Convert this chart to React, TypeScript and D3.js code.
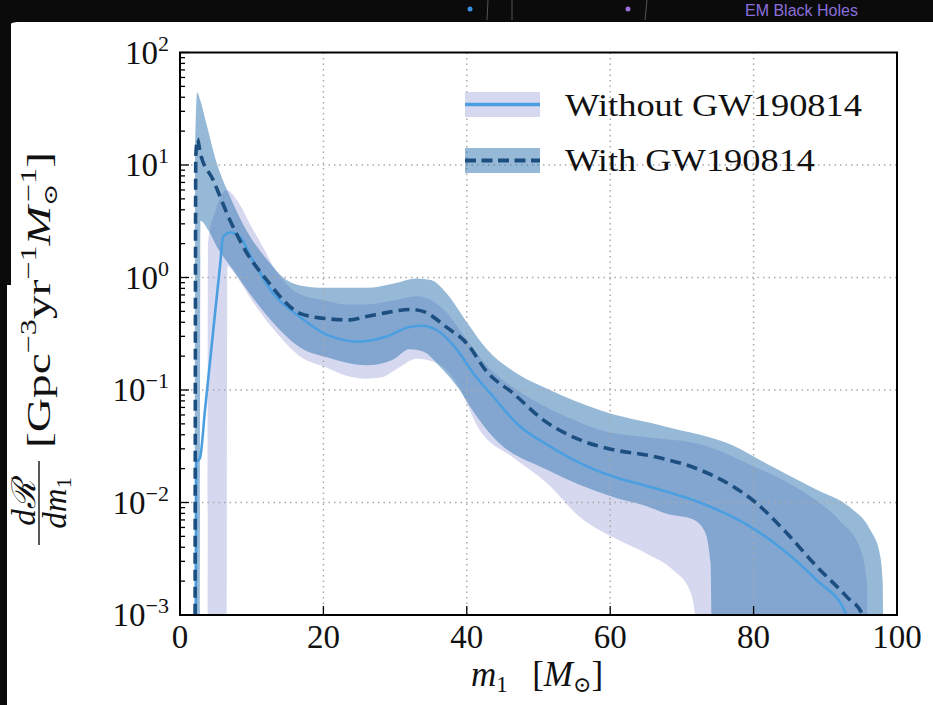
import React from 'react';
import * as d3 from 'd3';

type P = [number, number];

// m1 [Msun], dR/dm1 values
const withoutMedian: P[] = [
  [2.2, 0.0005], [2.25, 0.0224], [2.8, 0.0251], [3.5, 0.068], [4.2, 0.182], [4.9, 0.49], [5.6, 1.3],
  [6.0, 2.29], [7.0, 2.51], [8.4, 2.29],
  [10, 1.48], [13, 0.72], [16.7, 0.447], [20.5, 0.309], [25, 0.269], [29, 0.302], [32, 0.363],
  [33.9, 0.372], [36.3, 0.324], [38.6, 0.229], [40.9, 0.141], [43.7, 0.0871], [47, 0.0501],
  [51.6, 0.0316], [55.8, 0.0224], [60.4, 0.017], [66, 0.0135], [72.5, 0.01], [80.2, 0.00575],
  [84.1, 0.0038], [88.8, 0.00204], [92.8, 0.00105], [93.2, 0.0006],
];

const withMedian: P[] = [
  [2.1, 0.0005], [2.2, 12], [2.45, 17], [2.8, 13], [4.6, 7.4], [7, 3.2], [9.3, 1.66], [12.1, 0.95],
  [14.4, 0.63], [16.7, 0.48], [20.5, 0.43], [23.5, 0.42], [26, 0.45], [29, 0.49], [32, 0.52],
  [33.9, 0.5], [37.2, 0.36], [40, 0.26], [42.8, 0.145], [46.5, 0.093], [50.7, 0.054], [55.8, 0.036],
  [60.4, 0.0295], [65.6, 0.026], [72.5, 0.0195], [77.2, 0.0138], [80.2, 0.0101], [84.1, 0.0058],
  [88.8, 0.0027], [93, 0.00145], [95.2, 0.001], [95.6, 0.0006],
];

const withUpper: P[] = [
  [2.05, 0.0005], [2.1, 12.6], [2.4, 44], [2.8, 38], [3.7, 23], [5.1, 10.5], [7, 5.2], [9.3, 2.6],
  [12.1, 1.45], [14.4, 1.0], [16.7, 0.85], [20, 0.81], [26, 0.81], [30, 0.89], [33, 0.98], [35, 0.95],
  [37.2, 0.72], [40, 0.4], [42.8, 0.23], [47, 0.14], [51.6, 0.1], [58.6, 0.066], [67.9, 0.047],
  [77.2, 0.032], [81.9, 0.022], [88.8, 0.013], [93.4, 0.0091], [96.2, 0.0058], [97.6, 0.0035],
  [98, 0.002], [98.1, 0.0005],
];

const withLower: P[] = [
  [2.05, 0.0005], [2.75, 0.0005], [2.85, 3.2], [4, 2.6], [5.1, 1.9], [7.4, 1.17], [9.8, 0.71],
  [12, 0.47], [14.4, 0.32], [16.7, 0.24], [20.5, 0.195], [26, 0.166], [29.7, 0.186], [32, 0.23],
  [33.9, 0.22], [36.3, 0.16], [39, 0.1], [41, 0.063], [43.7, 0.038], [51.2, 0.0195], [60.4, 0.0112],
  [65, 0.0093], [68, 0.0079], [71.5, 0.0071], [73.2, 0.0055], [74, 0.0029], [74.2, 0.0005],
  [98.1, 0.0005],
];

const withoutUpper: P[] = [
  [3.85, 0.0005], [3.9, 2.0], [5, 4.0], [6.5, 6.0], [8, 4.8], [10, 2.8], [11.5, 1.9], [13, 1.26],
  [16.7, 0.71], [20, 0.63], [23, 0.575], [26, 0.575], [30, 0.63], [33, 0.68], [35, 0.63], [37, 0.5],
  [40, 0.28], [43, 0.16], [47, 0.1], [51, 0.071], [55, 0.054], [58.6, 0.044], [65, 0.038],
  [72.5, 0.033], [80, 0.021], [86.5, 0.0129], [92, 0.0069], [94.8, 0.004], [95.8, 0.002],
  [95.9, 0.0005],
];

const withoutLower: P[] = [
  [3.85, 0.0005], [6.5, 0.0005], [6.6, 1.26], [8, 1.0], [10, 0.63], [13, 0.35], [16.7, 0.2],
  [20.5, 0.158], [23, 0.135], [26, 0.126], [28, 0.129], [30.5, 0.158], [33, 0.19], [35.8, 0.174],
  [38.6, 0.115], [41.8, 0.044], [46.5, 0.025], [51.2, 0.0148], [55.8, 0.0074], [60.4, 0.0049],
  [65.1, 0.0035], [68.8, 0.0025], [71.1, 0.00166], [72, 0.0008], [72.2, 0.0005], [95.9, 0.0005],
];

const xTicks = [0, 20, 40, 60, 80, 100];
const yTickExps = [2, 1, 0, -1, -2, -3];
const legendLabels = ['Without GW190814', 'With GW190814'];

const W = 933;
const H = 705;
const PL = 180;
const PR = 897;
const PT = 52.5;
const PB = 615;

const SERIF = '"Liberation Serif", "DejaVu Serif", serif';

const C_WITHOUT_BAND = '#d6d8f0';
const C_WITH_BAND = 'rgba(45,115,175,0.5)';
const C_WITHOUT_LINE = '#4b9fe1';
const C_WITH_LINE = '#1c4e80';

export default function App() {
  const x = d3.scaleLinear().domain([0, 100]).range([PL, PR]);
  const y = d3.scaleLog().domain([1e-3, 1e2]).range([PB, PT]);

  const line = d3
    .line<P>()
    .x((d) => x(d[0]))
    .y((d) => y(d[1]))
    .curve(d3.curveMonotoneX);

  const band = (upper: P[], lower: P[]) => {
    const up = line(upper) as string;
    const lo = line([...lower].reverse()) as string;
    return up + 'L' + lo.slice(1) + 'Z';
  };

  const minor: number[] = [];
  for (let e = -3; e < 2; e++) {
    for (let k = 2; k <= 9; k++) minor.push(k * Math.pow(10, e));
  }

  const supText = (e: number) => (e < 0 ? '\u2212' + Math.abs(e) : String(e));

  return (
    <svg
      width={W}
      height={H}
      viewBox={`0 0 ${W} ${H}`}
      style={{ position: 'absolute', left: 0, top: 0, display: 'block' }}
    >
      <defs>
        <clipPath id="plotclip">
          <rect x={PL} y={PT} width={PR - PL} height={PB - PT} />
        </clipPath>
      </defs>
      {/* slide background */}
      <rect x={0} y={0} width={W} height={H} fill="#0b0b0b" />
      <path d={`M7,${H} L7,32 Q7,22 17,22 L${W},22 L${W},${H} Z`} fill="#ffffff" />
      <rect x={0} y={22} width={11} height={263} fill="#0b0b0b" />
      <text x={745} y={16} fill="#8a6fdc" fontSize={16} fontFamily="Liberation Sans, Arial, sans-serif">
        EM Black Holes
      </text>
      <circle cx={470} cy={9} r={2.5} fill="#3b8fe0" />
      <line x1={488} y1={0} x2={487} y2={20} stroke="#555" strokeWidth={1} />
      <line x1={512} y1={0} x2={512} y2={20} stroke="#555" strokeWidth={1} />
      <circle cx={628} cy={9} r={2.5} fill="#9a6fd8" />
      <line x1={647} y1={0} x2={645} y2={20} stroke="#555" strokeWidth={1} />

      {/* bands */}
      <g clipPath="url(#plotclip)">
        <path d={band(withoutUpper, withoutLower)} fill={C_WITHOUT_BAND} />
        <path d={band(withUpper, withLower)} fill={C_WITH_BAND} />
      </g>

      {/* grid */}
      <g stroke="#a9a9a9" strokeWidth={1.5} strokeDasharray="1.5,4" fill="none">
        {xTicks
          .filter((t) => t > 0 && t < 100)
          .map((t) => (
            <line key={'gx' + t} x1={x(t)} x2={x(t)} y1={PT} y2={PB} />
          ))}
        {yTickExps
          .filter((e) => e > -3 && e < 2)
          .map((e) => (
            <line key={'gy' + e} x1={PL} x2={PR} y1={y(Math.pow(10, e))} y2={y(Math.pow(10, e))} />
          ))}
      </g>

      {/* lines */}
      <g clipPath="url(#plotclip)" fill="none">
        <path d={line(withoutMedian) as string} stroke={C_WITHOUT_LINE} strokeWidth={2.6} />
        <path
          d={line(withMedian) as string}
          stroke={C_WITH_LINE}
          strokeWidth={3.6}
          strokeDasharray="11,6"
        />
      </g>

      {/* axes frame */}
      <rect x={PL} y={PT} width={PR - PL} height={PB - PT} fill="none" stroke="#000" strokeWidth={2} />

      {/* ticks */}
      <g stroke="#000" strokeWidth={1.3}>
        {yTickExps.map((e) => (
          <line key={'yt' + e} x1={PL} x2={PL + 9} y1={y(Math.pow(10, e))} y2={y(Math.pow(10, e))} />
        ))}
        {minor.map((v, i) => (
          <line key={'ym' + i} x1={PL} x2={PL + 5} y1={y(v)} y2={y(v)} />
        ))}
        {xTicks
          .filter((t) => t > 0 && t < 100)
          .map((t) => (
            <line key={'xt' + t} x1={x(t)} x2={x(t)} y1={PB} y2={PB - 9} />
          ))}
      </g>

      {/* y tick labels */}
      <g fontFamily={SERIF} fill="#111">
        {yTickExps.map((e) => (
          <text key={'yl' + e} x={169} y={y(Math.pow(10, e)) + 11} textAnchor="end" fontSize={33}>
            10
            <tspan fontSize={22} dy={-13}>
              {supText(e)}
            </tspan>
          </text>
        ))}
      </g>

      {/* x tick labels */}
      <g fontFamily={SERIF} fill="#111" fontSize={33}>
        {xTicks.map((t) => (
          <text key={'xl' + t} x={x(t)} y={648} textAnchor="middle">
            {t}
          </text>
        ))}
      </g>

      {/* x title */}
      <text x={537} y={686} textAnchor="middle" fontFamily={SERIF} fontSize={35} fill="#111">
        <tspan fontStyle="italic">m</tspan>
        <tspan fontSize={23} dy={6}>1</tspan>
        <tspan dy={-6}>{'\u2002\u2009['}</tspan>
        <tspan fontStyle="italic">M</tspan>
        <tspan fontSize={22} dy={6}>{'\u2299'}</tspan>
        <tspan dy={-6}>]</tspan>
      </text>

      {/* y title (rotated) */}
      <g fontFamily={SERIF} fill="#111">
        <text transform="rotate(-90)" x={-503} y={35} textAnchor="middle" fontSize={33}>
          <tspan fontStyle="italic">d</tspan>
          <tspan fontStyle="italic">{'\u211B'}</tspan>
        </text>
        <line x1={39} x2={39} y1={461} y2={545} stroke="#111" strokeWidth={1.4} />
        <text transform="rotate(-90)" x={-503} y={66} textAnchor="middle" fontSize={33}>
          <tspan fontStyle="italic">dm</tspan>
          <tspan fontSize={22} dy={5}>1</tspan>
        </text>
        <text
          transform="rotate(-90)"
          x={-448}
          y={50}
          fontSize={34}
          textLength={296}
          lengthAdjust="spacingAndGlyphs"
        >
          <tspan>[Gpc</tspan>
          <tspan fontSize={23} dy={-14}>{'\u22123'}</tspan>
          <tspan dy={14}>yr</tspan>
          <tspan fontSize={23} dy={-14}>{'\u22121'}</tspan>
          <tspan dy={14} fontStyle="italic">M</tspan>
          <tspan fontSize={19} dy={7}>{'\u2299'}</tspan>
          <tspan fontSize={23} dy={-21} dx={-13}>{'\u22121'}</tspan>
          <tspan dy={14}>]</tspan>
        </text>
      </g>

      {/* legend */}
      <g>
        <rect x={465} y={92} width={75} height={25} fill={C_WITHOUT_BAND} />
        <line x1={465} x2={540} y1={104.5} y2={104.5} stroke={C_WITHOUT_LINE} strokeWidth={3.5} />
        <rect x={465} y={148} width={75} height={25} fill={C_WITH_BAND} />
        <line
          x1={465}
          x2={540}
          y1={160.5}
          y2={160.5}
          stroke={C_WITH_LINE}
          strokeWidth={4}
          strokeDasharray="11,5.5"
        />
        <text x={565} y={116} fontFamily={SERIF} fontSize={32} fill="#111" textLength={297} lengthAdjust="spacingAndGlyphs">
          {legendLabels[0]}
        </text>
        <text x={565} y={171} fontFamily={SERIF} fontSize={32} fill="#111" textLength={250} lengthAdjust="spacingAndGlyphs">
          {legendLabels[1]}
        </text>
      </g>
    </svg>
  );
}
